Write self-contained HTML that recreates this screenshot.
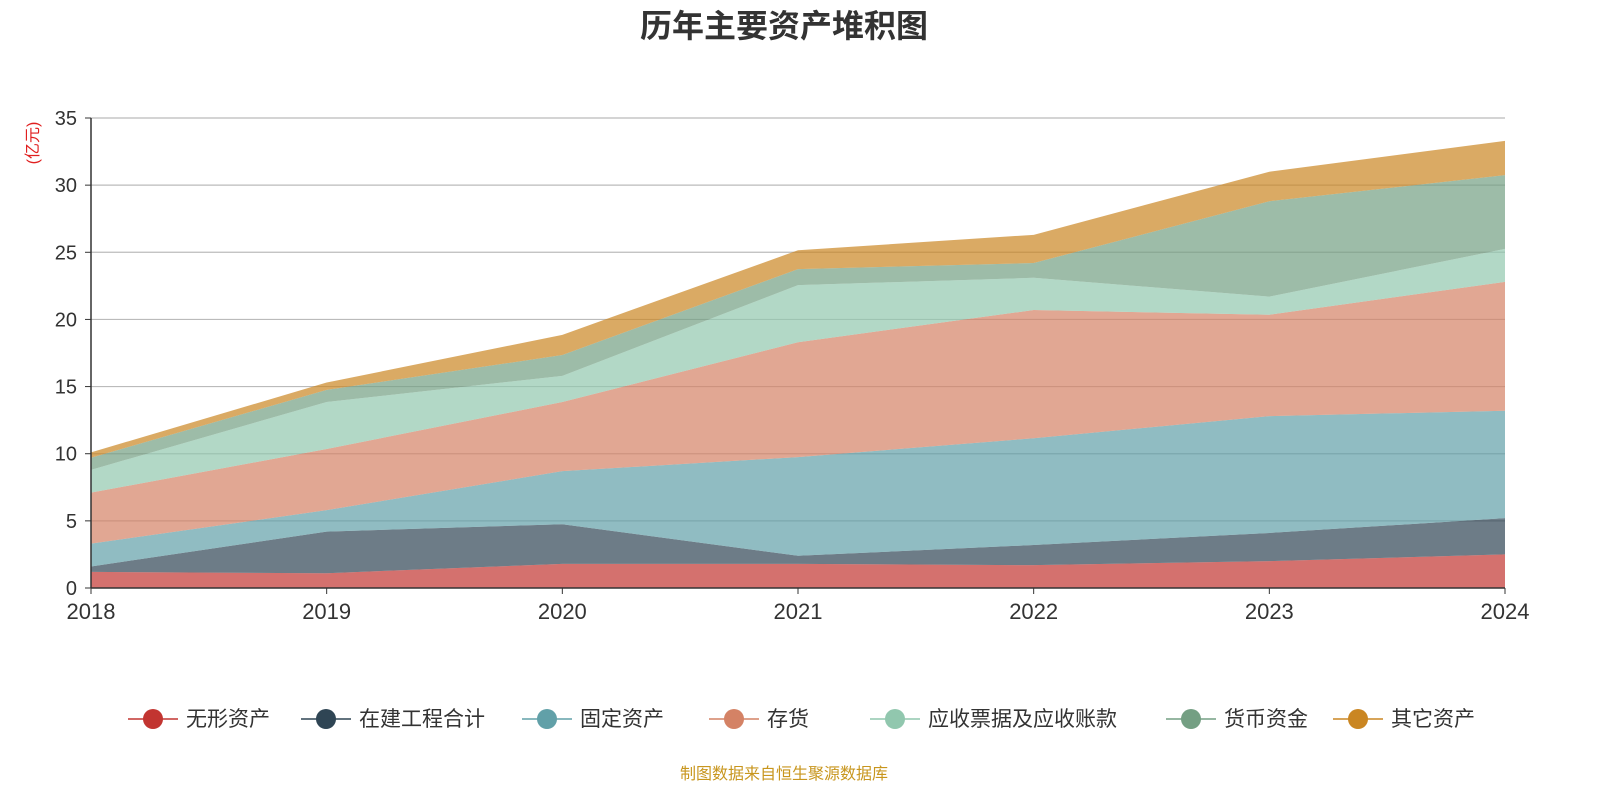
<!DOCTYPE html>
<html><head><meta charset="utf-8"><style>
body{margin:0;background:#fff;font-family:"Liberation Sans","Noto Sans CJK SC",sans-serif}
</style></head><body>
<svg id="chart" width="1600" height="800" xmlns="http://www.w3.org/2000/svg" font-family="Liberation Sans, Noto Sans CJK SC, sans-serif">
<text x="784" y="37" text-anchor="middle" font-size="32" font-weight="bold" fill="#333">历年主要资产堆积图</text>
<text transform="translate(38,143) rotate(-90)" text-anchor="middle" font-size="16" fill="#e02020">(亿元)</text>
<g id="grid"></g><g id="areas"></g><g id="axes"></g><g id="legend"></g>
<text x="784" y="779" text-anchor="middle" font-size="16" fill="#c8961e">制图数据来自恒生聚源数据库</text>
</svg>
<script>
const years=["2018","2019","2020","2021","2022","2023","2024"];
const seriesNames=["无形资产","在建工程合计","固定资产","存货","应收票据及应收账款","货币资金","其它资产"];
const intangible=[1.2,1.1,1.8,1.8,1.7,2.0,2.5];
const construction=[0.4,3.1,2.95,0.6,1.5,2.1,2.7];
const fixedAssets=[1.7,1.6,3.95,7.35,7.95,8.7,8.0];
const inventory=[3.8,4.55,5.15,8.55,9.55,7.55,9.6];
const receivables=[1.7,3.5,1.95,4.25,2.4,1.35,2.45];
const cash=[0.9,0.9,1.55,1.2,1.1,7.1,5.5];
const otherAssets=[0.4,0.55,1.5,1.4,2.1,2.2,2.55];
const yTicks=[0,5,10,15,20,25,30,35];
const series=[intangible,construction,fixedAssets,inventory,receivables,cash,otherAssets];
const colors=["#c23531","#2f4554","#61a0a8","#d48265","#91c7ae","#749f83","#ca8622"];
const NS="http://www.w3.org/2000/svg";
const X0=91,X1=1505,Y0=588,Y1=118,YMAX=35;
const xs=i=>X0+(X1-X0)*i/(years.length-1);
const ys=v=>Y0-(Y0-Y1)*v/YMAX;
function mk(t,a,p){const e=document.createElementNS(NS,t);for(const k in a)e.setAttribute(k,a[k]);p.appendChild(e);return e;}
const grid=document.getElementById('grid'),areas=document.getElementById('areas'),axes=document.getElementById('axes'),legend=document.getElementById('legend');
yTicks.forEach(v=>{
 if(v>0){const l=mk('line',{x1:X0,x2:X1,y1:ys(v),y2:ys(v),stroke:'#bbb','stroke-width':1.2},grid);
 
 }
 const t=mk('text',{x:X0-14,y:ys(v)+7,'text-anchor':'end','font-size':20,fill:'#333'},axes);t.textContent=v;
 
 
 mk('line',{x1:X0-6,x2:X0,y1:ys(v),y2:ys(v),stroke:'#333'},axes);
});
let base=years.map(()=>0);
series.forEach((s,si)=>{
 const top=s.map((v,i)=>base[i]+v);
 let d='M'+top.map((v,i)=>xs(i)+','+ys(v)).join('L');
 for(let i=years.length-1;i>=0;i--)d+='L'+xs(i)+','+ys(base[i]);
 const p=mk('path',{d:d+'Z',fill:colors[si],'fill-opacity':0.7,stroke:'none'},areas);
 
 
 base=top;
});
mk('line',{x1:X0,x2:X0,y1:Y1,y2:Y0,stroke:'#333','stroke-width':1.5},axes);
mk('line',{x1:X0,x2:X1,y1:Y0,y2:Y0,stroke:'#333','stroke-width':1.5},axes);
years.forEach((y,i)=>{
 mk('line',{x1:xs(i),x2:xs(i),y1:Y0,y2:Y0+6,stroke:'#333'},axes);
 const t=mk('text',{x:xs(i),y:Y0+31,'text-anchor':'middle','font-size':22,fill:'#333'},axes);t.textContent=y;
 
 
});
const widths=[0,173,221,187,161,296,167];
let lx=128;
seriesNames.forEach((n,i)=>{
 lx+=widths[i];
 const g=mk('g',{},legend);
 
 
 mk('line',{x1:lx,x2:lx+50,y1:719,y2:719,stroke:colors[i],'stroke-width':1.5},g);
 mk('circle',{cx:lx+25,cy:719,r:10,fill:colors[i]},g);
 const t=mk('text',{x:lx+58,y:726,'font-size':21,fill:'#333'},g);t.textContent=n;
});
</script>
</body></html>
